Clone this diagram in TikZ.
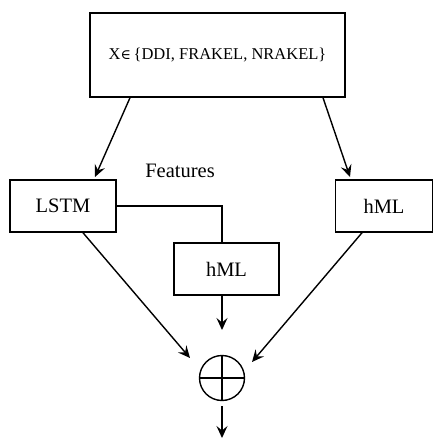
\documentclass[tikz,border=0pt]{standalone}
\usepackage{fontspec}
\setmainfont{Liberation Serif}
\newfontfamily\symfont{DejaVu Serif}
\usetikzlibrary{arrows.meta}
\begin{document}
\begin{tikzpicture}[x=1pt,y=-1pt,
  box/.style={draw,line width=1.5pt,inner sep=0pt,font=\fontsize{20.5}{24}\selectfont},
  arr/.style={line width=1.4pt,-{Stealth[length=12pt,width=11pt,inset=4.5pt]}},
  ln/.style={line width=1.4pt}]
\useasboundingbox (0,0) rectangle (435,438);
% input box
\node[box,minimum width=255pt,minimum height=84pt,font=\fontsize{16.5}{20}\selectfont] (in) at (217.5,55)
  {X{\symfont\fontsize{14}{16}\selectfont∈}\,\{DDI, FRAKEL, NRAKEL\}};
% branch boxes
\node[box,minimum width=106pt,minimum height=52pt] (lstm) at (63,206) {LSTM};
\node[box,minimum width=97pt,minimum height=52pt] (hmlr) at (384,206) {hML};
\node[box,minimum width=105pt,minimum height=52pt] (hmlm) at (226.5,269) {hML};
\node[font=\fontsize{20.5}{24}\selectfont] (feat) at (180,171) {Features};
% fusion
\node[draw,circle,line width=1.4pt,minimum size=45pt,inner sep=0pt] (sum) at (222,378) {};
\draw[line width=2.6pt] (sum.north) -- (sum.south) (sum.west) -- (sum.east);
\coordinate (out) at (222,438);
% connectors
\draw[arr] (in.south -| 130,0) -- (95,177);
\draw[arr] (in.south -| 323,0) -- (350,177);
\draw[ln] (lstm.east) -| (hmlm.north -| 222,0);
\draw[arr] (hmlm.south -| 222,0) -- (222,330);
\draw[arr] (lstm.south -| 83,0) -- (190,358);
\draw[arr] (hmlr.south -| 362,0) -- (252,362);
\draw[arr] (222,406) -- (out);
\end{tikzpicture}
\end{document}
